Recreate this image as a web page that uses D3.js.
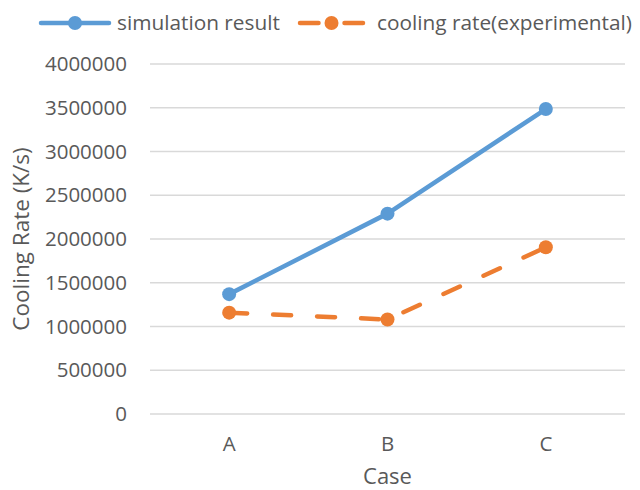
<!DOCTYPE html>
<html>
<head>
<meta charset="utf-8">
<script src="https://cdn.jsdelivr.net/npm/d3@7"></script>
<style>
  html, body { margin: 0; padding: 0; background: #fff; }
  svg { display: block; font-family: "Open Sans", "Noto Sans", sans-serif; }
</style>
</head>
<body>
<svg id="chart" width="640" height="490"></svg>
<script>
const categories = ["A", "B", "C"];
const simulationValues = [1370000, 2290000, 3485000];
const experimentalValues = [1158000, 1080000, 1905000];
const yTicks = [0, 500000, 1000000, 1500000, 2000000, 2500000, 3000000, 3500000, 4000000];
const seriesNames = ["simulation result", "cooling rate(experimental)"];

const svg = d3.select("#chart");
const textColor = "#595959";
const blue = "#5B9BD5";
const orange = "#ED7D31";

const plot = { left: 150, right: 625, top: 64, bottom: 414 };

const x = d3.scaleBand().domain(categories).range([plot.left, plot.right]).padding(0);
const y = d3.scaleLinear().domain([0, 4000000]).range([plot.bottom, plot.top]);
const cx = d => x(d) + x.bandwidth() / 2;

// gridlines
svg.append("g")
  .selectAll("line")
  .data(yTicks)
  .join("line")
  .attr("x1", plot.left).attr("x2", plot.right)
  .attr("y1", d => y(d)).attr("y2", d => y(d))
  .attr("stroke", "#D9D9D9").attr("stroke-width", 1.3);

// y axis labels
const yAxis = d3.axisLeft(y).tickValues(yTicks).tickFormat(d3.format("d")).tickSize(0).tickPadding(0);
const yg = svg.append("g").attr("transform", `translate(${plot.left - 23},0)`).call(yAxis);
yg.select(".domain").remove();
yg.selectAll("text").attr("fill", textColor).style("font-size", "20.5px")
  .style("font-family", "'Open Sans', sans-serif");

// x axis labels
const xAxis = d3.axisBottom(x).tickSize(0).tickPadding(0);
const xg = svg.append("g").attr("transform", `translate(0,${plot.bottom + 22})`).call(xAxis);
xg.select(".domain").remove();
xg.selectAll("text").attr("fill", textColor).style("font-size", "20.5px")
  .style("font-family", "'Open Sans', sans-serif");

// axis titles
svg.append("text")
  .attr("x", (plot.left + plot.right) / 2).attr("y", 484)
  .attr("text-anchor", "middle").attr("fill", textColor)
  .style("font-size", "22px").text("Case");

svg.append("text")
  .attr("transform", `translate(29,${(plot.top + plot.bottom) / 2}) rotate(-90)`)
  .attr("text-anchor", "middle").attr("fill", textColor)
  .style("font-size", "22.5px").text("Cooling Rate (K/s)");

// series
const line = d3.line().x((d, i) => cx(categories[i])).y(d => y(d));

function drawSeries(values, color, dashed) {
  svg.append("path")
    .datum(values)
    .attr("d", line)
    .attr("fill", "none")
    .attr("stroke", color)
    .attr("stroke-width", 4.5)
    .attr("stroke-linecap", "round")
    .attr("stroke-linejoin", "round")
    .attr("stroke-dasharray", dashed ? "18,26" : null);
  svg.append("g")
    .selectAll("circle")
    .data(values)
    .join("circle")
    .attr("cx", (d, i) => cx(categories[i]))
    .attr("cy", d => y(d))
    .attr("r", 7)
    .attr("fill", color);
}

drawSeries(simulationValues, blue, false);
drawSeries(experimentalValues, orange, true);

// legend
const legendItems = [
  { name: seriesNames[0], color: blue, x1: 39, x2: 111, tx: 117, dashed: false },
  { name: seriesNames[1], color: orange, x1: 298, x2: 365, tx: 377, dashed: true }
];
const legendY = 23;
legendItems.forEach(item => {
  const g = svg.append("g");
  const mid = (item.x1 + item.x2) / 2;
  const segments = item.dashed
    ? [[item.x1, mid - 11], [mid + 11, item.x2]]
    : [[item.x1, item.x2]];
  segments.forEach(([a, b]) => {
    g.append("line")
      .attr("x1", a + 2).attr("x2", b - 2)
      .attr("y1", legendY).attr("y2", legendY)
      .attr("stroke", item.color).attr("stroke-width", 4.5)
      .attr("stroke-linecap", "round");
  });
  g.append("circle")
    .attr("cx", mid).attr("cy", legendY)
    .attr("r", 7).attr("fill", item.color);
  g.append("text")
    .attr("x", item.tx).attr("y", legendY + 7)
    .attr("fill", textColor)
    .style("font-size", "20.8px")
    .text(item.name);
});
</script>
</body>
</html>
